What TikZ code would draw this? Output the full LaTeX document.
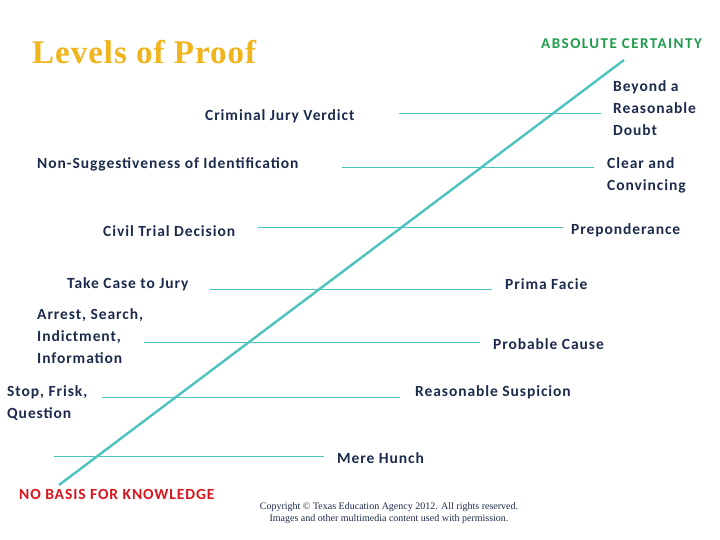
\documentclass[tikz,border=0pt]{standalone}
\usepackage{fontspec}
\setmainfont{Carlito}[LetterSpace=6]
\newfontfamily\serifft{Liberation Serif}
\newfontfamily\titlefont{Liberation Serif}[LetterSpace=3]
\newfontfamily\capsfont{Carlito}[LetterSpace=10]
\definecolor{teal1}{HTML}{4CC3BE}
\definecolor{navy1}{HTML}{1C2B4C}
\definecolor{gold1}{HTML}{F0B41C}
\definecolor{green1}{HTML}{1E9C4C}
\definecolor{red1}{HTML}{D8141C}
\begin{document}
\begin{tikzpicture}[x=1pt,y=-1pt,
  lbl/.style={font=\fontsize{15.5}{22}\selectfont\bfseries, text=navy1, inner sep=0pt, align=left},
  hline/.style={draw=teal1, line width=1pt},
  diag/.style={draw=teal1, line width=2.4pt}]
\useasboundingbox (0,0) rectangle (720,540);
% title
\node[anchor=west, inner sep=0pt, font=\fontsize{33}{36}\selectfont\titlefont\bfseries, text=gold1] (title) at (32,52) {Levels of Proof};
\node[anchor=west, inner sep=0pt, font=\fontsize{15}{16}\selectfont\capsfont\bfseries, text=green1] (abs) at (541,44) {ABSOLUTE CERTAINTY};
\node[anchor=west, inner sep=0pt, font=\fontsize{15.5}{16}\selectfont\bfseries, text=red1] (nob) at (19,494) {NO BASIS FOR KNOWLEDGE};
% diagonal
\coordinate (d0) at (59,485);
\coordinate (d1) at (624,60);
\draw[diag] (d0) -- (d1);
% horizontal lines
\coordinate (h1a) at (399,114); \coordinate (h1b) at (601,114);
\coordinate (h2a) at (342,168); \coordinate (h2b) at (594,168);
\coordinate (h3a) at (258,228); \coordinate (h3b) at (563,228);
\coordinate (h4a) at (210,289); \coordinate (h4b) at (492,289);
\coordinate (h5a) at (144,342); \coordinate (h5b) at (480,342);
\coordinate (h6a) at (102,397); \coordinate (h6b) at (400,397);
\coordinate (h7a) at (54,456);  \coordinate (h7b) at (324,456);
\foreach \i in {1,...,7} {\draw[hline] (h\i a) -- (h\i b);}
% left labels
\node[lbl, anchor=west] (crim) at (205,116) {Criminal Jury Verdict};
\node[lbl, anchor=west] (nons) at (37,164) {Non-Suggestiveness of Identification};
\node[lbl, anchor=west] (civ) at (103,231) {Civil Trial Decision};
\node[lbl, anchor=west] (take) at (67,284) {Take Case to Jury};
\node[lbl, anchor=west] (arr) at (37,336) {Arrest, Search,\\Indictment,\\Information};
\node[lbl, anchor=west] (stop) at (7,403) {Stop, Frisk,\\Question};
% right labels
\node[lbl, anchor=west] (bey) at (613,108) {Beyond a\\Reasonable\\Doubt};
\node[lbl, anchor=west] (clr) at (607,175) {Clear and\\Convincing};
\node[lbl, anchor=west] (pre) at (571,230) {Preponderance};
\node[lbl, anchor=west] (pri) at (505,284) {Prima Facie};
\node[lbl, anchor=west] (pro) at (493,344) {Probable Cause};
\node[lbl, anchor=west] (rea) at (415,392) {Reasonable Suspicion};
\node[lbl, anchor=west] (mer) at (337,458) {Mere Hunch};
% copyright
\node[anchor=center, inner sep=0pt, align=center, font=\fontsize{10}{12}\selectfont\serifft, text=navy1] (copy) at (389,513) {Copyright \textcopyright{} Texas Education Agency 2012. All rights reserved.\\Images and other multimedia content used with permission.};
\end{tikzpicture}
\end{document}
